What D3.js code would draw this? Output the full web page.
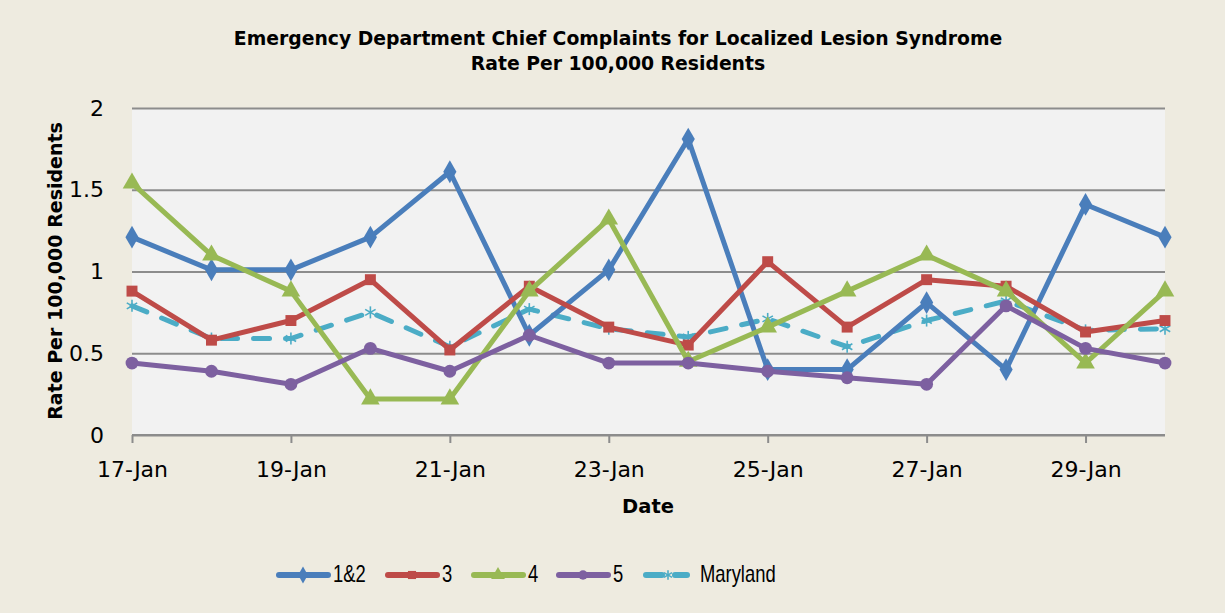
<!DOCTYPE html>
<html>
<head>
<meta charset="utf-8">
<script src="https://cdn.jsdelivr.net/npm/d3@7"></script>
<style>
  body { margin: 0; background: #eeebe0; }
  svg { display: block; font-family: "DejaVu Sans", Verdana, sans-serif; }
</style>
</head>
<body>
<svg id="chart"></svg>
<script>
var dates = ["17-Jan", "18-Jan", "19-Jan", "20-Jan", "21-Jan", "22-Jan", "23-Jan",
  "24-Jan", "25-Jan", "26-Jan", "27-Jan", "28-Jan", "29-Jan", "30-Jan"];
var seriesNames = ["1&2", "3", "4", "5", "Maryland"];
var region12 = [1.21, 1.01, 1.01, 1.21, 1.61, 0.61, 1.01, 1.81, 0.40, 0.40, 0.81, 0.40, 1.41, 1.21];
var region3 = [0.88, 0.58, 0.70, 0.95, 0.52, 0.91, 0.66, 0.55, 1.06, 0.66, 0.95, 0.91, 0.63, 0.70];
var region4 = [1.54, 1.10, 0.88, 0.22, 0.22, 0.88, 1.32, 0.45, 0.66, 0.88, 1.10, 0.88, 0.44, 0.88];
var region5 = [0.44, 0.39, 0.31, 0.53, 0.39, 0.61, 0.44, 0.44, 0.39, 0.35, 0.31, 0.79, 0.53, 0.44];
var maryland = [0.79, 0.59, 0.59, 0.75, 0.54, 0.77, 0.65, 0.60, 0.71, 0.54, 0.70, 0.82, 0.64, 0.65];
var yTicks = [0, 0.5, 1, 1.5, 2];

var width = 1225, height = 613;
var plotLeft = 132, plotRight = 1165, plotTop = 108, plotBottom = 435;

var colors = ["#4a7ebb", "#be4b48", "#98b954", "#7d60a0", "#4bacc6"];
var shapes = [d3.symbolDiamond, d3.symbolSquare, d3.symbolTriangle, d3.symbolCircle, null];
var allValues = [region12, region3, region4, region5, maryland];

var svg = d3.select("#chart").attr("width", width).attr("height", height);

svg.append("rect").attr("width", width).attr("height", height).attr("fill", "#eeebe0");

var x = d3.scalePoint().domain(dates).range([plotLeft, plotRight]);
var y = d3.scaleLinear().domain([0, 2]).range([plotBottom, plotTop]);

svg.append("rect")
  .attr("x", plotLeft).attr("y", plotTop)
  .attr("width", plotRight - plotLeft).attr("height", plotBottom - plotTop)
  .attr("fill", "#f2f2f2");

// gridlines
svg.append("g")
  .attr("transform", "translate(" + plotLeft + ",0)")
  .call(d3.axisLeft(y).tickValues(yTicks).tickSize(-(plotRight - plotLeft)).tickFormat(""))
  .call(function (g) {
    g.select(".domain").remove();
    g.selectAll(".tick line").attr("stroke", "#8c8c8c").attr("stroke-width", 2);
  });

// y labels
svg.append("g")
  .attr("transform", "translate(" + (plotLeft - 28) + ",0)")
  .call(d3.axisLeft(y).tickValues(yTicks).tickSize(0).tickPadding(0)
    .tickFormat(function (d) { return String(d); }))
  .call(function (g) {
    g.select(".domain").remove();
    g.selectAll(".tick text").attr("font-size", "22px").attr("fill", "#000")
      .attr("font-family", "DejaVu Sans, sans-serif");
  });

// x axis
var labeled = dates.filter(function (d, i) { return i % 2 === 0; });
svg.append("g")
  .attr("transform", "translate(0," + plotBottom + ")")
  .call(d3.axisBottom(x).tickValues(labeled).tickSize(8).tickPadding(18).tickSizeOuter(0))
  .call(function (g) {
    g.select(".domain").attr("stroke", "#8c8c8c").attr("stroke-width", 2)
      .attr("d", "M" + plotLeft + ",0H" + plotRight);
    g.selectAll(".tick line").attr("stroke", "#8c8c8c").attr("stroke-width", 2);
    g.selectAll(".tick text").attr("font-size", "22px").attr("fill", "#000")
      .attr("font-family", "DejaVu Sans, sans-serif");
  });

// titles
var title = svg.append("text").attr("text-anchor", "middle")
  .attr("font-weight", "bold").attr("font-size", "18.8px");
title.append("tspan").attr("x", 618).attr("y", 45)
  .text("Emergency Department Chief Complaints for Localized Lesion Syndrome");
title.append("tspan").attr("x", 618).attr("y", 70).text("Rate Per 100,000 Residents");

svg.append("text").attr("x", 648).attr("y", 513).attr("text-anchor", "middle")
  .attr("font-weight", "bold").attr("font-size", "19.5px").text("Date");

svg.append("text")
  .attr("transform", "translate(62," + 271 + ") rotate(-90)")
  .attr("text-anchor", "middle").attr("font-weight", "bold").attr("font-size", "19px")
  .text("Rate Per 100,000 Residents");

// series
var line = d3.line()
  .x(function (d, i) { return x(dates[i]); })
  .y(function (d) { return y(d); });

function drawMarker(g, k, cx, cy, scale) {
  if (shapes[k]) {
    var sizes = [150, 120, 150, 130];
    g.append("path")
      .attr("d", d3.symbol().type(shapes[k]).size(sizes[k] * scale)())
      .attr("transform", "translate(" + cx + "," + cy + ")")
      .attr("fill", colors[k]);
  } else {
    var r = 6 * Math.sqrt(scale);
    var star = g.append("g").attr("transform", "translate(" + cx + "," + cy + ")")
      .attr("stroke", colors[k]).attr("stroke-width", 1.6);
    [0, 60, 120].forEach(function (a) {
      var rad = a * Math.PI / 180;
      star.append("line")
        .attr("x1", -r * Math.sin(rad)).attr("y1", -r * Math.cos(rad))
        .attr("x2", r * Math.sin(rad)).attr("y2", r * Math.cos(rad));
    });
  }
}

var order = [4, 0, 1, 2, 3];
order.forEach(function (k) {
  var g = svg.append("g");
  var p = g.append("path").datum(allValues[k])
    .attr("d", line)
    .attr("fill", "none")
    .attr("stroke", colors[k])
    .attr("stroke-width", 5)
    .attr("stroke-linejoin", "round");
  if (k === 4) {
    p.attr("stroke-dasharray", "16,16").attr("stroke-linecap", "round");
  }
  allValues[k].forEach(function (v, i) {
    drawMarker(g, k, x(dates[i]), y(v), 1);
  });
});

// legend
var legendX = [277, 386, 472, 557, 643];
var legend = svg.append("g");
seriesNames.forEach(function (name, k) {
  var lx = legendX[k], ly = 575;
  var g = legend.append("g");
  var tx;
  if (k === 4) {
    g.append("line").attr("x1", lx + 3).attr("x2", lx + 19).attr("y1", ly).attr("y2", ly)
      .attr("stroke", colors[k]).attr("stroke-width", 6).attr("stroke-linecap", "round");
    g.append("line").attr("x1", lx + 32).attr("x2", lx + 44).attr("y1", ly).attr("y2", ly)
      .attr("stroke", colors[k]).attr("stroke-width", 6).attr("stroke-linecap", "round");
    drawMarker(g, k, lx + 25, ly, 0.6);
    tx = lx + 57;
  } else {
    g.append("line").attr("x1", lx + 2).attr("x2", lx + 51).attr("y1", ly).attr("y2", ly)
      .attr("stroke", colors[k]).attr("stroke-width", 6).attr("stroke-linecap", "round");
    drawMarker(g, k, lx + 26, ly, 0.55);
    tx = lx + 56;
  }
  g.append("text")
    .attr("transform", "translate(" + tx + "," + (ly + 7) + ") scale(0.8,1)")
    .attr("font-size", "23px")
    .attr("font-family", "Liberation Sans, Arial, sans-serif").text(name);
});
</script>
</body>
</html>
